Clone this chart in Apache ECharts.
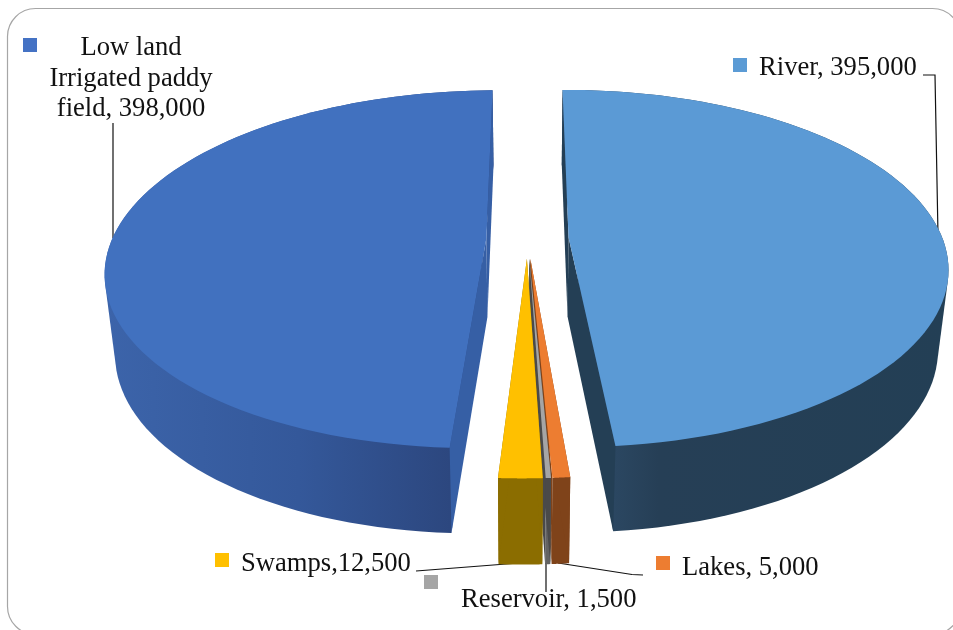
<!DOCTYPE html>
<html><head><meta charset="utf-8">
<style>html,body{margin:0;padding:0;background:#fff}#c{width:953px;height:630px}</style>
<script src="https://cdn.jsdelivr.net/npm/echarts@6/dist/echarts.min.js"></script>
</head><body><div id="c"></div>
<script>
// clockwise from the top
const categories = ['River', 'Lakes', 'Reservoir', 'Swamps', 'Low land Irrigated paddy field'];
const values = [395000, 5000, 1500, 12500, 398000];
const colors = ['#5B9BD5', '#ED7D31', '#A5A5A5', '#FFC000', '#4472C4'];

// 3D pie view
const START = -0.6, CX = 527.5, CY = 238.5, RX = 374, RY = 173.6, K = 0.174, SKEW = 4;
const FX = 0.975, FY = 1.03, DEPTH = 79, STEPS = 90;
const EXPLODE = [0.110, 0.114, 0.114, 0.114, 0.110];
const topFace = ['#5B9AD5', '#ED7D31', '#A5A5A5', '#FFC000', '#4171BF'];
const sideShade = ['#243F55', '#7F431A', '#4A4A4A', '#8B6D00', '#365FA5'];
const wallGrad = [
  [[0, '#31506F'], [0.25, '#263F56'], [1, '#233F55']],
  [[0, '#7F431A'], [1, '#7F431A']],
  [[0, '#636363'], [1, '#636363']],
  [[0, '#8B6D00'], [1, '#8B6D00']],
  [[0, '#3C64AA'], [0.5, '#34589A'], [1, '#2A4277']]
];
const total = values.reduce((a, b) => a + b, 0);

function project(u, v, low) {
  const s = 1 / (1 - K * v);
  return low
    ? [CX + FX * RX * u * s - SKEW * v * s, CY + DEPTH + FY * RY * v * s]
    : [CX + RX * u * s - SKEW * v * s, CY + RY * v * s];
}
function hull(points) {
  const p = points.slice().sort((a, b) => a[0] - b[0] || a[1] - b[1]);
  const cross = (o, a, b) => (a[0] - o[0]) * (b[1] - o[1]) - (a[1] - o[1]) * (b[0] - o[0]);
  const half = list => {
    const h = [];
    for (const q of list) {
      while (h.length >= 2 && cross(h[h.length - 2], h[h.length - 1], q) <= 0) h.pop();
      h.push(q);
    }
    h.pop();
    return h;
  };
  return half(p).concat(half(p.slice().reverse()));
}
function renderItem(params, api) {
  const i = params.dataIndex;
  let before = 0;
  for (let j = 0; j < i; j++) before += values[j];
  const a0 = (START + before / total * 360) * Math.PI / 180;
  const a1 = (START + (before + api.value(0)) / total * 360) * Math.PI / 180;
  const mid = (a0 + a1) / 2, e = EXPLODE[i];
  const ou = e * Math.sin(mid), ov = -e * Math.cos(mid);
  const arc = low => {
    const pts = [];
    for (let n = 0; n <= STEPS; n++) {
      const t = a0 + (a1 - a0) * n / STEPS;
      pts.push(project(ou + Math.sin(t), ov - Math.cos(t), low));
    }
    return pts;
  };
  const top = arc(false), bot = arc(true);
  const apexT = project(ou, ov, false), apexB = project(ou, ov, true);
  const poly = (points, fill) => ({ type: 'polygon', shape: { points }, style: { fill }, silent: true });
  const wall = new echarts.graphic.LinearGradient(0, 0, 1, 0,
    wallGrad[i].map(s => ({ offset: s[0], color: s[1] })));
  return {
    type: 'group',
    children: [
      poly(hull(top.concat(bot)), wall),
      poly([apexT, top[0], bot[0], apexB], sideShade[i]),
      poly([apexT, top[STEPS], bot[STEPS], apexB], sideShade[i]),
      poly([apexT].concat(top), topFace[i])
    ]
  };
}

const serif = '"Liberation Serif","Times New Roman",serif';
const fmt = v => v.toLocaleString('en-US');
const text = (x, y, t, align) => ({ type: 'text', x, y, silent: true,
  style: { text: t, font: '26.6px ' + serif, fill: '#111', align: align || 'left', verticalAlign: 'middle', lineHeight: 30 } });
const square = (x, y, fill) => ({ type: 'rect', silent: true, shape: { x, y, width: 14, height: 14 }, style: { fill } });
const leader = points => ({ type: 'polyline', silent: true, shape: { points }, style: { stroke: '#111', lineWidth: 1.2, fill: 'none' } });

const chart = echarts.init(document.getElementById('c'), null, { renderer: 'canvas' });
chart.setOption({
  animation: false,
  series: [{ type: 'custom', coordinateSystem: 'none', renderItem, clip: false, data: values.map(v => [v]), z: 2 }],
  graphic: [
    { type: 'rect', silent: true, z: 0, shape: { x: 7.5, y: 8.5, width: 953, height: 626, r: 28 }, style: { fill: '#fff', stroke: '#A6A6A6', lineWidth: 1.2 } },
    square(23, 38, colors[4]), square(733, 58, colors[0]), square(215, 553, colors[3]), square(424, 575, colors[2]), square(656, 556, colors[1]),
    text(131, 48.5, 'Low land', 'center'),
    text(131, 79.5, 'Irrigated paddy', 'center'),
    text(131, 109.5, 'field, ' + fmt(values[4]), 'center'),
    text(759, 68, categories[0] + ', ' + fmt(values[0])),
    text(241, 564, categories[3] + ',' + fmt(values[3])),
    text(461, 600.5, categories[2] + ', ' + fmt(values[2])),
    text(682, 568, categories[1] + ', ' + fmt(values[1])),
    leader([[923, 75], [935, 75], [938, 235]]),
    leader([[113, 123], [113, 238]]),
    leader([[416, 571], [519, 563]]),
    leader([[546, 563], [546, 592]]),
    leader([[558, 563], [632, 574.5], [643, 575]])
  ]
});
</script></body></html>
